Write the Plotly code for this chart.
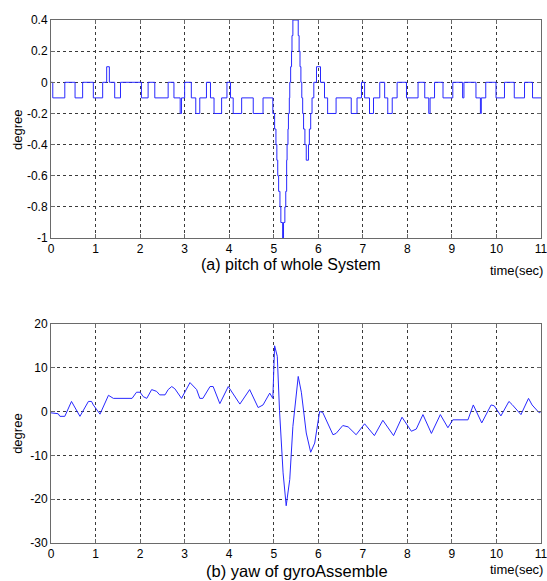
import plotly.graph_objects as go

# ---- pitch of whole System (step signal, 0.1 deg quantisation) ----
pitch_t = [0, 0.04, 0.31, 0.54, 0.71, 0.95, 1.16, 1.25, 1.31, 1.43, 1.56, 2.03, 2.18, 2.33,
           2.63, 2.76, 2.90, 2.93, 3.00, 3.15, 3.25, 3.34, 3.49, 3.58, 3.66, 3.83, 3.95,
           4.03, 4.09, 4.28, 4.54, 4.76, 4.98,
           5.02, 5.05, 5.07, 5.09, 5.11, 5.14, 5.16, 5.20, 5.22, 5.25, 5.27, 5.29, 5.30,
           5.32, 5.33, 5.35, 5.36, 5.38, 5.40, 5.41, 5.43, 5.55, 5.57, 5.59, 5.61, 5.63,
           5.65, 5.67, 5.70, 5.73, 5.78, 5.80, 5.83, 5.86, 5.90, 5.96, 6.05, 6.14, 6.21,
           6.40, 6.74, 6.87, 6.97, 7.04, 7.15, 7.24, 7.38, 7.49, 7.56, 7.66, 7.77, 7.98,
           8.24, 8.39, 8.48, 8.51, 8.61, 8.80, 9.02, 9.24, 9.27, 9.54, 9.64, 9.66, 9.76,
           9.99, 10.18, 10.40, 10.63, 10.81, 11.0]
pitch_v = [0, -0.1, 0, -0.1, 0, -0.1, 0, 0.1, 0, -0.1, 0, -0.1, 0, -0.1,
           0, -0.1, -0.2, -0.1, 0, -0.1, -0.2, -0.1, 0, -0.1, -0.2, -0.1, 0,
           -0.1, -0.2, -0.1, -0.2, -0.1, -0.2,
           -0.3, -0.4, -0.5, -0.6, -0.7, -0.8, -0.9, -1.0, -0.9, -0.8, -0.7, -0.5, -0.4,
           -0.3, -0.2, -0.1, 0, 0.1, 0.2, 0.3, 0.4, 0.3, 0.2, 0.1, 0, -0.1,
           -0.2, -0.3, -0.4, -0.5, -0.4, -0.3, -0.2, -0.1, 0, 0.1, 0, -0.1, -0.2,
           -0.1, -0.2, -0.1, 0, -0.1, -0.2, -0.1, 0, -0.1, -0.2, -0.1, 0, -0.1,
           0, -0.1, -0.2, -0.1, 0, -0.1, 0, -0.1, 0, -0.1, -0.2, -0.1, 0,
           -0.1, 0, -0.1, 0, -0.1, -0.1]

# ---- yaw of gyroAssemble ----
yaw_t = [0, 0.16, 0.20, 0.31, 0.46, 0.65, 0.84, 0.91, 0.95, 1.10,
         1.29, 1.40, 1.82, 1.92, 2.00, 2.07, 2.15, 2.26, 2.37, 2.44,
         2.56, 2.63, 2.71, 2.78, 2.93, 3.12, 3.27, 3.34, 3.41, 3.57,
         3.64, 3.79, 3.98, 4.24, 4.46, 4.65, 4.76, 4.91, 4.98, 5.02,
         5.08, 5.13, 5.21, 5.28, 5.36, 5.43, 5.55, 5.62, 5.73, 5.83,
         5.92, 6.03, 6.10, 6.26, 6.33, 6.40, 6.55, 6.67, 6.85, 7.04,
         7.26, 7.45, 7.69, 7.88, 8.09, 8.20, 8.35, 8.54, 8.74, 8.91,
         9.02, 9.36, 9.48, 9.67, 9.88, 9.95, 10.10, 10.28, 10.35, 10.55,
         10.72, 10.80, 10.96, 11.00]
yaw_v = [-0.3, -0.5, -1.1, -1.1, 2.3, -1.1, 2.3, 2.3, 1.5, -0.6,
         3.7, 3.0, 3.0, 4.4, 4.4, 3.4, 3.0, 5.0, 4.6, 3.8,
         3.8, 5.0, 5.7, 5.2, 3.0, 6.6, 5.0, 3.0, 3.0, 5.7,
         5.7, 1.8, 5.7, 1.7, 5.0, 0.9, 1.5, 4.2, 3.0, 15.0,
         12.6, 0.2, -14.0, -21.5, -15.5, -3.4, 8.0, 4.4, -4.9, -9.3,
         -7.2, 0.0, -0.2, -3.6, -5.3, -5.0, -3.2, -3.5, -5.3, -2.8,
         -5.5, -2.0, -5.5, -1.3, -4.5, -4.0, -0.7, -5.0, -0.7, -3.7,
         -1.9, -1.9, 1.5, -2.6, 1.5, 1.3, -1.0, 2.3, 1.6, -0.7,
         3.0, 1.5, -0.3, 0.0]

x_ticks = list(range(0, 12))
pitch_ticks = [-1, -0.8, -0.6, -0.4, -0.2, 0, 0.2, 0.4]
pitch_ticktext = ["-1", "-0.8", "-0.6", "-0.4", "-0.2", "0", "0.2", "0.4"]
yaw_ticks = [-30, -20, -10, 0, 10, 20]
yaw_ticktext = ["-30", "-20", "-10", "0", "10", "20"]

LINE = "rgb(40,40,255)"
FONT = "Liberation Sans, Arial, sans-serif"

fig = go.Figure()
fig.add_trace(go.Scatter(x=pitch_t, y=pitch_v, mode="lines", line_shape="hv",
                         line=dict(color=LINE, width=1), xaxis="x", yaxis="y",
                         showlegend=False))
fig.add_trace(go.Scatter(x=yaw_t, y=yaw_v, mode="lines",
                         line=dict(color=LINE, width=1), xaxis="x2", yaxis="y2",
                         showlegend=False))

ax_common = dict(showline=True, linecolor="#6a6a6a", linewidth=1, mirror="allticks",
                 ticks="inside", ticklen=4, tickcolor="#6a6a6a", automargin=False,
                 showgrid=True, gridcolor="#3a3a3a", griddash="dot", gridwidth=1,
                 zeroline=False, tickfont=dict(family=FONT, size=12, color="black"))

fig.update_layout(
    width=547, height=581,
    margin=dict(l=51, r=6, t=20, b=38),
    paper_bgcolor="white", plot_bgcolor="white",
    font=dict(family=FONT, color="black"),
    xaxis=dict(domain=[0, 1], anchor="y", range=[0, 11], tickvals=x_ticks,
               ticklabeloverflow="allow", **ax_common),
    yaxis=dict(domain=[0.583, 1], anchor="x", range=[-1, 0.4],
               tickvals=pitch_ticks, ticktext=pitch_ticktext, **ax_common),
    xaxis2=dict(domain=[0, 1], anchor="y2", range=[0, 11], tickvals=x_ticks,
                ticklabeloverflow="allow", **ax_common),
    yaxis2=dict(domain=[0, 0.419], anchor="x2", range=[-30, 20],
                tickvals=yaw_ticks, ticktext=yaw_ticktext, **ax_common),
)

ann = [
    dict(text="(a) pitch of whole System", x=0.49, y=0.533, size=16, xa="center"),
    dict(text="time(sec)", x=1.008, y=0.521, size=13, xa="right"),
    dict(text="(b) yaw of gyroAssemble", x=0.502, y=-0.053, size=16.5, xa="center"),
    dict(text="time(sec)", x=1.008, y=-0.050, size=13, xa="right"),
]
for a in ann:
    fig.add_annotation(text=a["text"], x=a["x"], y=a["y"], xref="paper", yref="paper",
                       xanchor=a["xa"], yanchor="middle", showarrow=False,
                       font=dict(family=FONT, size=a["size"], color="black"))
for yy in (0.79, 0.209):
    fig.add_annotation(text="degree", x=-0.067, y=yy, xref="paper", yref="paper",
                       xanchor="center", yanchor="middle", textangle=-90, showarrow=False,
                       font=dict(family=FONT, size=13, color="black"))

fig.write_html("out.html")
